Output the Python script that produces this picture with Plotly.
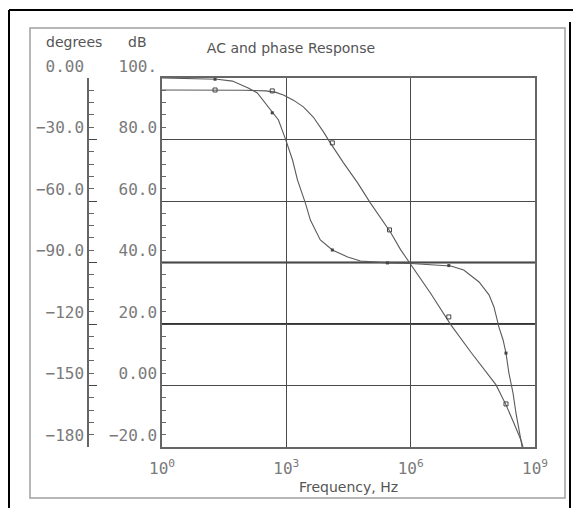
import plotly.graph_objects as go

# ---------------- data ----------------
# phase curve: log10(frequency) and phase in degrees
phase_logf = [0.0, 1.0, 1.33, 1.7, 2.08, 2.30, 2.66, 2.81, 2.98, 3.15, 3.27, 3.46, 3.58,
              3.82, 4.11, 4.48, 4.79, 5.44, 6.0, 6.5, 6.97, 7.28, 7.65, 7.89, 8.01,
              8.13, 8.23, 8.30, 8.37, 8.47, 8.54, 8.66, 8.69]
phase_deg = [0.0, -0.3, -0.6, -1.5, -4.9, -7.3, -17.0, -20.5, -29.8, -40.0, -49.8, -61.0, -69.3,
             -79.0, -83.9, -87.3, -89.3, -90.2, -90.5, -91.0, -91.7, -93.7, -99.5, -105.8, -111.7,
             -121.5, -127.8, -134.2, -143.9, -153.7, -163.4, -176.6, -180.0]

# magnitude curve: log10(frequency) and gain in dB
mag_logf = [0.0, 1.0, 2.0, 2.5, 2.73, 2.93, 3.17, 3.41, 3.65, 3.90, 4.06, 4.38, 4.72,
            5.03, 5.27, 5.51, 5.76, 6.0, 6.48, 6.97, 7.45, 8.06, 8.30, 8.49, 8.66, 8.71]
mag_db = [96.1, 96.1, 96.0, 95.8, 95.4, 94.5, 92.8, 90.6, 87.3, 82.4, 78.9, 72.4, 65.9,
          59.3, 54.8, 49.9, 44.1, 39.5, 30.0, 19.7, 10.9, 0.2, -6.3, -12.2, -17.7, -20.0]

# marker points on each curve
mag_mark_logf = [1.28, 2.66, 4.11, 5.49, 6.92, 8.30]
mag_mark_db = [96.1, 95.8, 78.9, 50.6, 22.3, -6.0]
phase_mark_logf = [1.28, 2.66, 4.11, 5.44, 6.92, 8.30]
phase_mark_deg = [-0.6, -17.0, -83.9, -90.2, -91.5, -134.2]

# axes ticks
freq_ticks = [1, 1e3, 1e6, 1e9]
freq_ticktext = ["10<sup>0</sup>", "10<sup>3</sup>", "10<sup>6</sup>", "10<sup>9</sup>"]
db_ticks = [100, 80, 60, 40, 20, 0, -20]
db_ticktext = ["100.", "80.0", "60.0", "40.0", "20.0", "0.00", "\u221220.0"]
deg_ticks = [0, -30, -60, -90, -120, -150, -180]
deg_ticktext = ["0.00", "\u221230.0", "\u221260.0", "\u221290.0", "\u2212120", "\u2212150", "\u2212180"]
emphasized_db = [40, 20]

# ---------------- layout geometry ----------------
OFF = 8                      # page body margin of the html page
W, H = 581 - OFF, 508 - OFF
ML, MR, MT, MB = 80, 46, 70, 61
PW, PH = W - ML - MR, H - MT - MB


def px2x(px):
    """page pixel x -> paper x"""
    return (px - OFF - ML) / PW


def px2y(py):
    """page pixel y -> paper y"""
    return (OFF + MT + PH - py) / PH


curve_color = "#5a5a5a"
grid_color = "#4a4a4a"
label_color = "#7a7a7a"
tick_font = dict(family="DejaVu Sans Mono", size=16, color=label_color)
text_font = dict(family="DejaVu Sans", size=14, color="#555555")

fig = go.Figure()
fig.add_trace(go.Scatter(x=[10 ** v for v in mag_logf], y=mag_db, mode="lines",
                         line=dict(color=curve_color, width=1.1), yaxis="y", showlegend=False))
fig.add_trace(go.Scatter(x=[10 ** v for v in phase_logf], y=phase_deg, mode="lines",
                         line=dict(color=curve_color, width=1.1), yaxis="y2", showlegend=False))
fig.add_trace(go.Scatter(x=[10 ** v for v in mag_mark_logf], y=mag_mark_db, mode="markers",
                         marker=dict(symbol="square-open", size=4, color="#444444",
                                     line=dict(width=1, color="#444444")),
                         yaxis="y", showlegend=False))
fig.add_trace(go.Scatter(x=[10 ** v for v in phase_mark_logf], y=phase_mark_deg, mode="markers",
                         marker=dict(symbol="square", size=3, color="#444444"),
                         yaxis="y2", showlegend=False))

shapes = []
# emphasized grid lines
for v in emphasized_db:
    shapes.append(dict(type="line", xref="x domain", yref="y", x0=0, x1=1, y0=v, y1=v,
                       line=dict(color="#333333", width=2), layer="below"))
# outer frame (black) and inner panel (gray)
shapes += [
    dict(type="line", xref="paper", yref="paper", x0=px2x(9), x1=px2x(581), y0=px2y(10), y1=px2y(10),
         line=dict(color="black", width=2)),
    dict(type="line", xref="paper", yref="paper", x0=px2x(9), x1=px2x(9), y0=px2y(10), y1=px2y(508),
         line=dict(color="black", width=2)),
    dict(type="line", xref="paper", yref="paper", x0=px2x(570), x1=px2x(570), y0=px2y(22), y1=px2y(508),
         line=dict(color="black", width=2)),
    dict(type="rect", xref="paper", yref="paper", x0=px2x(30), x1=px2x(565), y0=px2y(498), y1=px2y(28),
         line=dict(color="#a0a0a0", width=1.5)),
]

annotations = [
    dict(text="degrees", xref="paper", yref="paper", x=px2x(74), y=px2y(42), showarrow=False,
         font=text_font, xanchor="center", yanchor="middle"),
    dict(text="dB", xref="paper", yref="paper", x=px2x(137), y=px2y(42), showarrow=False,
         font=text_font, xanchor="center", yanchor="middle"),
]

fig.update_layout(
    width=W, height=H,
    margin=dict(l=ML, r=MR, t=MT, b=MB),
    paper_bgcolor="white", plot_bgcolor="white",
    title=dict(text="AC and phase Response", x=(291 - OFF) / W, y=1 - (48 - OFF) / H,
               xanchor="center", yanchor="middle",
               font=dict(family="DejaVu Sans", size=14, color="#555555")),
    xaxis=dict(type="log", range=[0, 9], domain=[px2x(162), 1],
               tickvals=freq_ticks, ticktext=freq_ticktext, tickfont=tick_font,
               ticklabelstandoff=6,
               showgrid=True, gridcolor=grid_color, gridwidth=1,
               showline=True, mirror=True, linecolor="#666666", linewidth=1.5,
               ticks="", zeroline=False,
               title=dict(text="Frequency, Hz", font=text_font, standoff=5)),
    yaxis=dict(range=[-20, 100], tickvals=db_ticks, ticktext=db_ticktext, tickfont=tick_font,
               showgrid=True, gridcolor=grid_color, gridwidth=1,
               showline=True, mirror=True, linecolor="#666666", linewidth=1.5,
               ticks="inside", ticklen=6, tickcolor="#444444", zeroline=False,
               ticklabelposition="outside top",
               minor=dict(dtick=4, ticks="inside", ticklen=4, tickcolor="#666666", showgrid=False)),
    yaxis2=dict(range=[-180, 0], overlaying="y", anchor="free", position=0, side="left",
                tickvals=deg_ticks, ticktext=deg_ticktext, tickfont=tick_font,
                showgrid=False, showline=True, linecolor="#666666", linewidth=1.5,
                ticks="inside", ticklen=8, tickcolor="#444444", zeroline=False,
                ticklabelposition="outside top",
                minor=dict(dtick=6, ticks="inside", ticklen=5, tickcolor="#666666")),
    shapes=shapes,
    annotations=annotations,
)

fig.write_html("out.html")
